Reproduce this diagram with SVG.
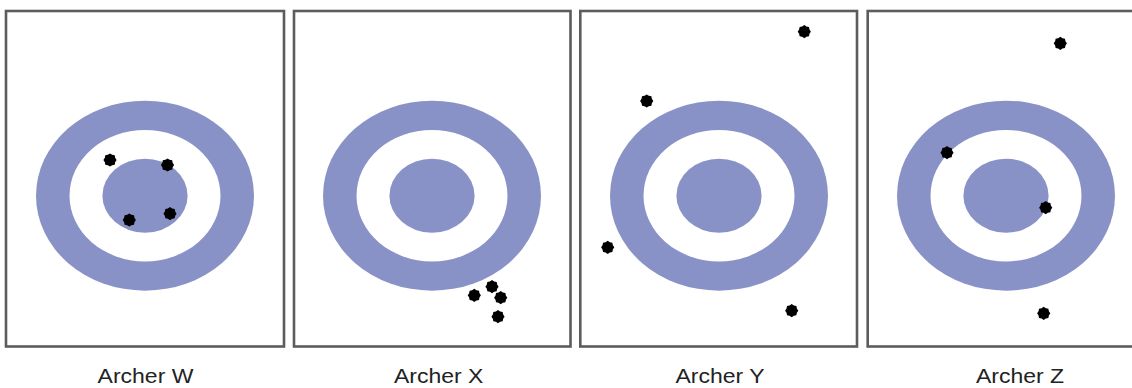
<svg xmlns="http://www.w3.org/2000/svg" width="1132" height="388" viewBox="0 0 1132 388">
<style>
.panel{fill:#ffffff;stroke:#5c5c5c;stroke-width:2.6}
.ring{fill:#8992c6}
.gap{fill:#ffffff}
.label{font-family:"Liberation Sans",Arial,sans-serif;font-size:20px;fill:#222222;text-anchor:middle}
</style>
<defs>
<polygon id="hole" fill="#000000" points="6.6,0 5.17,2.14 4.67,4.67 2.14,5.17 0,6.6 -2.14,5.17 -4.67,4.67 -5.17,2.14 -6.6,0 -5.17,-2.14 -4.67,-4.67 -2.14,-5.17 0,-6.6 2.14,-5.17 4.67,-4.67 5.17,-2.14"/>
<g id="target">
<ellipse class="ring" cx="0" cy="0" rx="109" ry="95"/>
<ellipse class="gap" cx="0" cy="0" rx="75.5" ry="65.7"/>
<ellipse class="ring" cx="0" cy="0" rx="42.6" ry="37"/>
</g>
</defs>
<rect width="1132" height="388" fill="#ffffff"/>
<g id="archer-w">
<rect class="panel" x="6" y="11" width="278" height="335.5"/>
<use href="#target" x="145" y="195.7"/>
<use href="#hole" x="110" y="160"/>
<use href="#hole" x="167.5" y="165"/>
<use href="#hole" x="129.3" y="220"/>
<use href="#hole" x="170" y="213.7"/>
<text class="label" transform="translate(145.5,383) scale(1.15,1)">Archer W</text>
</g>
<g id="archer-x">
<rect class="panel" x="294" y="11" width="276.5" height="335.5"/>
<use href="#target" x="432" y="195.7"/>
<use href="#hole" x="474.3" y="295.3"/>
<use href="#hole" x="492" y="286.7"/>
<use href="#hole" x="500.7" y="297.7"/>
<use href="#hole" x="498" y="316.7"/>
<text class="label" transform="translate(438.7,383) scale(1.15,1)">Archer X</text>
</g>
<g id="archer-y">
<rect class="panel" x="580.3" y="11" width="276.7" height="335.5"/>
<use href="#target" x="719" y="195.7"/>
<use href="#hole" x="804.3" y="31.7"/>
<use href="#hole" x="646.7" y="101"/>
<use href="#hole" x="607.7" y="247.3"/>
<use href="#hole" x="791.7" y="310.7"/>
<text class="label" transform="translate(720,383) scale(1.15,1)">Archer Y</text>
</g>
<g id="archer-z">
<rect class="panel" x="867.7" y="11" width="278" height="335.5"/>
<use href="#target" x="1006" y="195.7"/>
<use href="#hole" x="1060.3" y="43.3"/>
<use href="#hole" x="947" y="152.7"/>
<use href="#hole" x="1045.7" y="207.7"/>
<use href="#hole" x="1043.7" y="313.3"/>
<text class="label" transform="translate(1020,383) scale(1.15,1)">Archer Z</text>
</g>
<g id="connectors"/>
</svg>
